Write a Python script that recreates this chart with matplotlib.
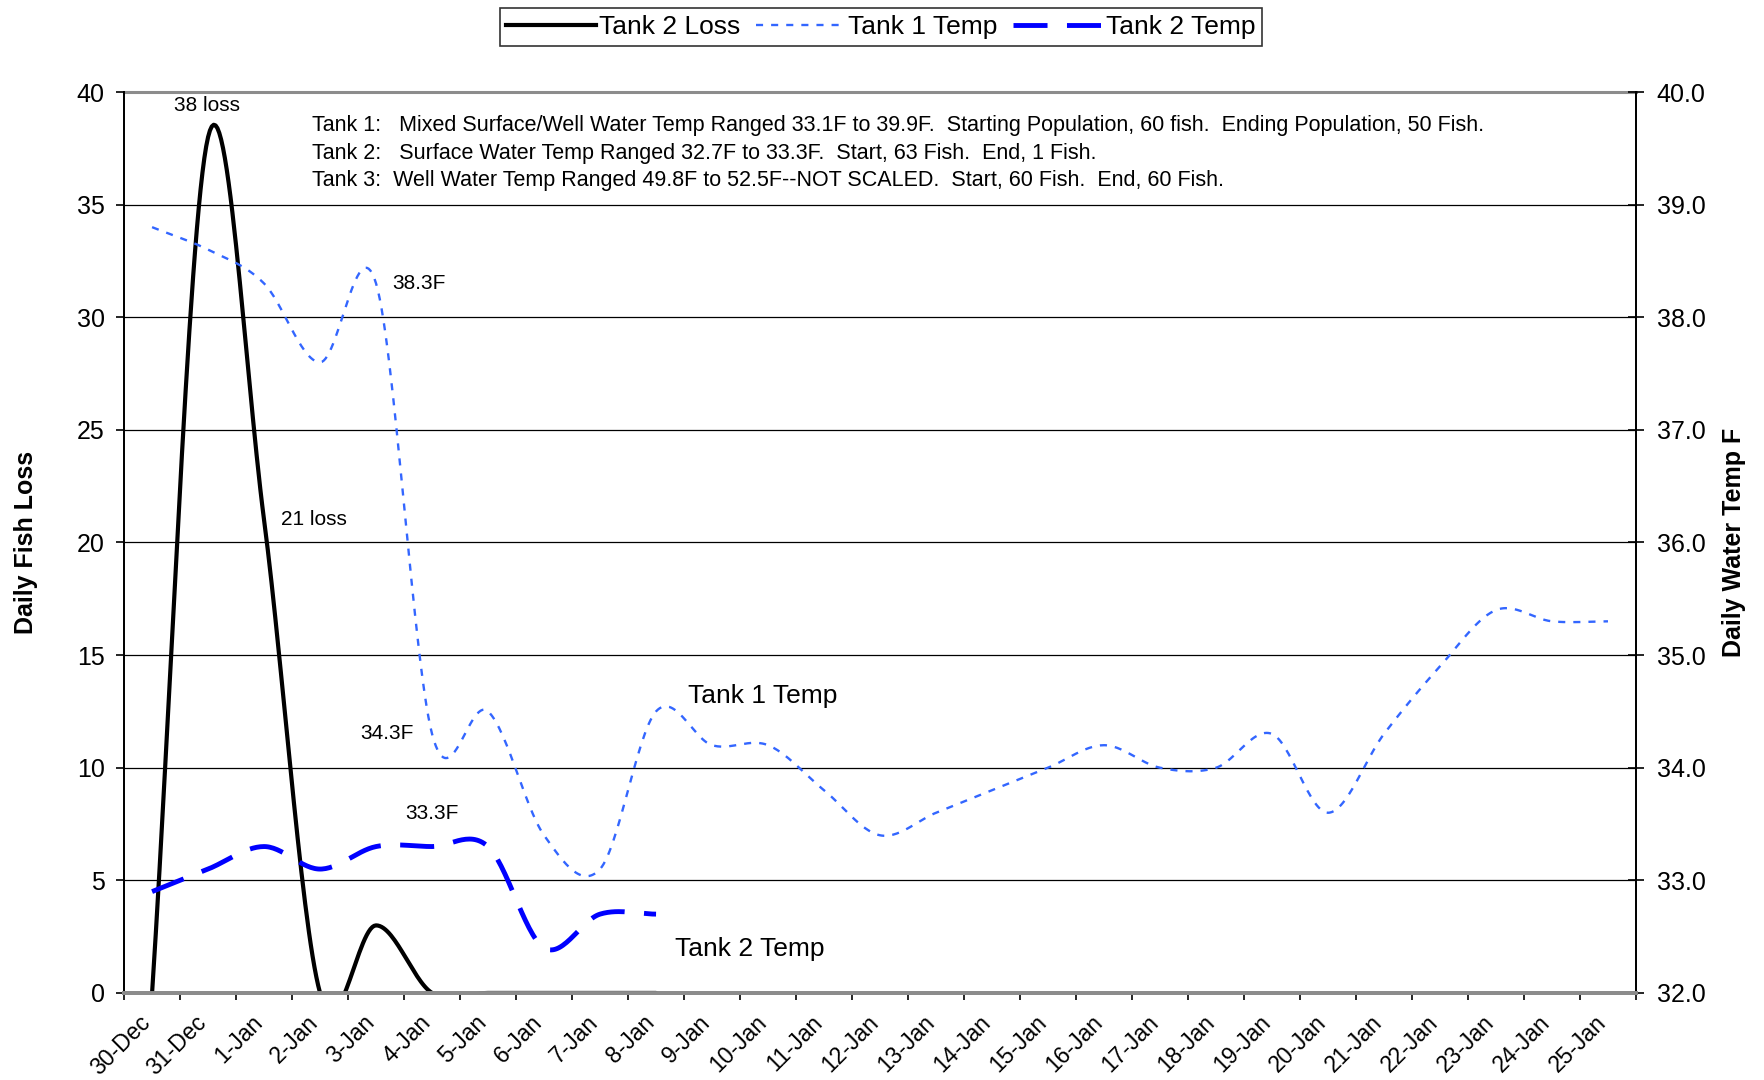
import numpy as np
import matplotlib
matplotlib.use("Agg")
import matplotlib.pyplot as plt
from matplotlib.lines import Line2D
from matplotlib.transforms import ScaledTranslation

plt.rcParams['font.family'] = ['Liberation Sans', 'DejaVu Sans']

# categories (one per day)
days = ["30-Dec", "31-Dec", "1-Jan", "2-Jan", "3-Jan", "4-Jan", "5-Jan", "6-Jan", "7-Jan",
        "8-Jan", "9-Jan", "10-Jan", "11-Jan", "12-Jan", "13-Jan", "14-Jan", "15-Jan",
        "16-Jan", "17-Jan", "18-Jan", "19-Jan", "20-Jan", "21-Jan", "22-Jan", "23-Jan",
        "24-Jan", "25-Jan"]

# daily values
tank2_loss = [0, 38, 21, 0, 3, 0, 0, 0, 0, 0]
tank1_temp = [38.8, 38.6, 38.3, 37.6, 38.3, 34.3, 34.5, 33.4, 33.1, 34.5, 34.2, 34.2,
              33.8, 33.4, 33.6, 33.8, 34.0, 34.2, 34.0, 34.0, 34.3, 33.6, 34.3, 34.9,
              35.4, 35.3, 35.3]
tank2_temp = [32.9, 33.1, 33.3, 33.1, 33.3, 33.3, 33.3, 32.4, 32.7, 32.7]

notes = ["Tank 1:   Mixed Surface/Well Water Temp Ranged 33.1F to 39.9F.  Starting Population, 60 fish.  Ending Population, 50 Fish.",
         "Tank 2:   Surface Water Temp Ranged 32.7F to 33.3F.  Start, 63 Fish.  End, 1 Fish.",
         "Tank 3:  Well Water Temp Ranged 49.8F to 52.5F--NOT SCALED.  Start, 60 Fish.  End, 60 Fish."]


def smooth(vals, n=30):
    # Excel style smoothed line: cardinal (Catmull-Rom) curve through the points
    y = np.asarray(vals, float)
    x = np.arange(len(y), dtype=float)
    m = np.gradient(y)
    xs, ys = [], []
    t = np.linspace(0, 1, n, endpoint=False)
    for i in range(len(y) - 1):
        h00 = 2*t**3 - 3*t**2 + 1
        h10 = t**3 - 2*t**2 + t
        h01 = -2*t**3 + 3*t**2
        h11 = t**3 - t**2
        xs.append(x[i] + t)
        ys.append(h00*y[i] + h10*m[i] + h01*y[i+1] + h11*m[i+1])
    xs.append([x[-1]])
    ys.append([y[-1]])
    return np.concatenate(xs), np.concatenate(ys)


fig = plt.figure(figsize=(17.65, 10.8), dpi=100)
ax = fig.add_axes([0.0703, 0.0806, 0.8566, 0.8342])
ax2 = ax.twinx()

# left axis: fish loss
ax.set_xlim(-0.5, len(days) - 0.5)
ax.set_ylim(0, 40)
ax.set_yticks(range(0, 41, 5))
for v in range(5, 40, 5):
    ax.axhline(v, color="black", lw=0.9, zorder=1)
ax.axhline(40, color="#8c8c8c", lw=2.2, zorder=1, clip_on=False)

xl, yl = smooth(tank2_loss)
ax.plot(xl, yl, color="black", lw=3.0, solid_capstyle="round", zorder=5)

# right axis: water temps
ax2.set_ylim(32, 40)
ax2.set_yticks(np.arange(32, 40.1, 1))
ax2.set_yticklabels([f"{v:.1f}" for v in np.arange(32, 40.1, 1)])

x1, y1 = smooth(tank1_temp)
ax2.plot(x1, y1, color="#3366ff", lw=1.7, linestyle=(0, (3, 3.4)), zorder=4)
x2, y2 = smooth(tank2_temp)
ax2.plot(x2, y2, color="#0000ff", lw=3.5, linestyle=(0, (7, 4)), zorder=4)

# spines / ticks
for a in (ax, ax2):
    a.spines["top"].set_visible(False)
    a.spines["left"].set_linewidth(1.3)
    a.spines["right"].set_linewidth(1.3)
    a.spines["bottom"].set_color("#8c8c8c")
    a.spines["bottom"].set_linewidth(2.8)

ax.tick_params(axis="y", direction="out", length=6, width=1.2, pad=8, labelsize=18)
ax2.tick_params(axis="y", direction="inout", length=12, width=1.2, pad=9, labelsize=18)

ax.set_xticks(np.arange(-0.5, len(days), 1.0))
ax.set_xticklabels([])
ax.tick_params(axis="x", which="major", direction="out", length=5, width=1.2, color="black")
ax.set_xticks(np.arange(len(days)), minor=True)
ax.set_xticklabels(days, minor=True, rotation=45, ha="right", va="center",
                   rotation_mode="anchor", fontsize=16.5)
ax.tick_params(axis="x", which="minor", length=0, pad=19)
shift = ScaledTranslation(-0.05, 0, fig.dpi_scale_trans)
for lab in ax.get_xticklabels(minor=True):
    lab.set_transform(lab.get_transform() + shift)

ax.set_ylabel("Daily Fish Loss", fontsize=18, fontweight="bold", labelpad=28)
ax2.set_ylabel("Daily Water Temp F", fontsize=18, fontweight="bold", labelpad=12)

# annotations
ax.text(0.98, 39.4, "38 loss", ha="center", va="center", fontsize=15)
ax.text(2.89, 21.0, "21 loss", ha="center", va="center", fontsize=15)
ax.text(4.29, 31.5, "38.3F", ha="left", va="center", fontsize=15)
ax.text(4.2, 11.5, "34.3F", ha="center", va="center", fontsize=15)
ax.text(5.0, 7.95, "33.3F", ha="center", va="center", fontsize=15)
ax.text(9.57, 13.2, "Tank 1 Temp", ha="left", va="center", fontsize=19)
ax.text(9.34, 1.95, "Tank 2 Temp", ha="left", va="center", fontsize=19)
for i, line in enumerate(notes):
    ax.text(2.86, 38.5 - 1.22 * i, line, ha="left", va="center", fontsize=15.5)

# legend
handles = [Line2D([], [], color="black", lw=3.0),
           Line2D([], [], color="#3366ff", lw=1.7, linestyle=(0, (3, 3.4))),
           Line2D([], [], color="#0000ff", lw=3.5, linestyle=(0, (7, 4)))]
leg = fig.legend(handles, ["Tank 2 Loss", "Tank 1 Temp", "Tank 2 Temp"], loc="center",
                 bbox_to_anchor=(0.499, 0.975), ncol=3, fontsize=19, frameon=True,
                 fancybox=False, edgecolor="black", handlelength=3.4, handletextpad=0.1,
                 columnspacing=0.6, borderpad=0.25)
leg.get_frame().set_linewidth(1.2)

fig.savefig("out.png", dpi=100, facecolor="white")
